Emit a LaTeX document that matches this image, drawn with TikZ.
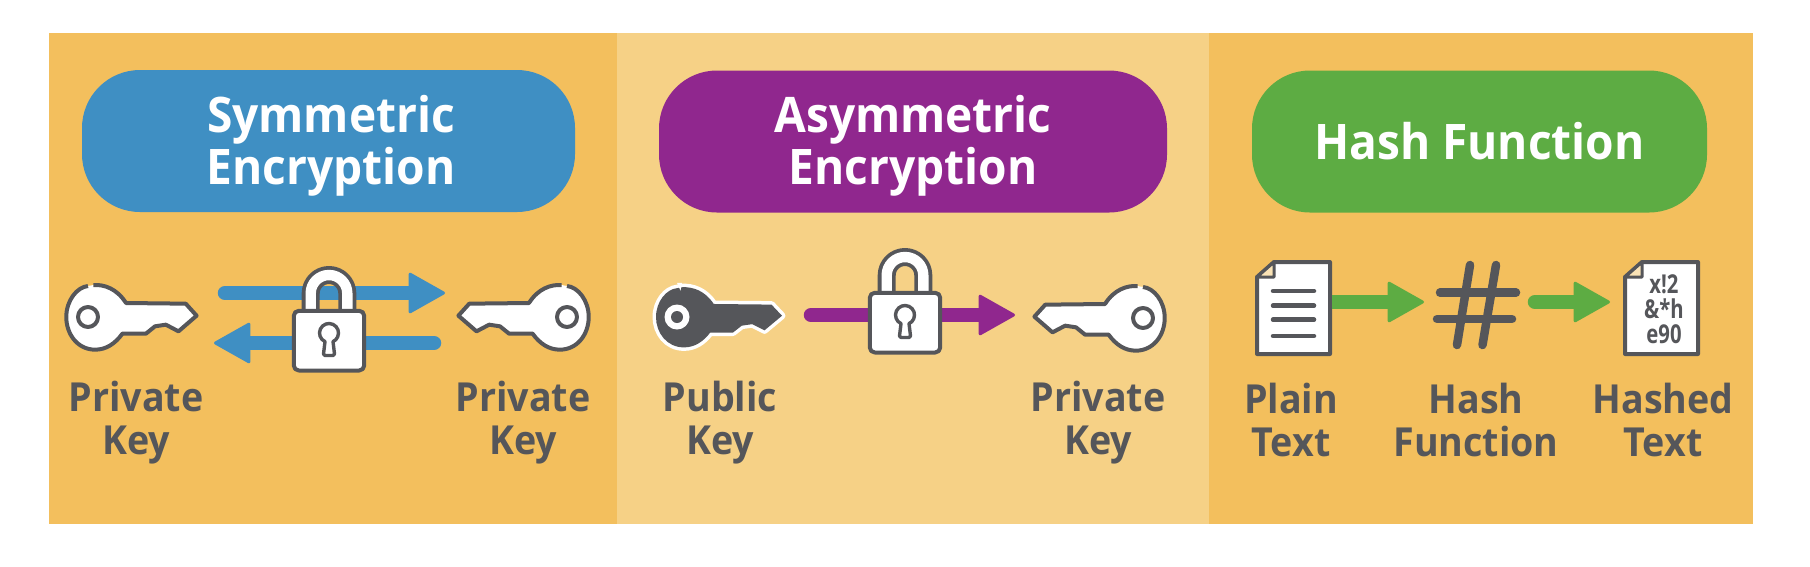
\documentclass[tikz,border=0pt]{standalone}
\usepackage{fontspec}
\usetikzlibrary{arrows.meta}
\setmainfont{Open Sans}
\newfontfamily\docfont[FakeStretch=0.78]{Open Sans Bold}
\newfontfamily\headfont[FakeStretch=0.94]{Open Sans Bold}
\definecolor{panelA}{HTML}{F3BF5D}
\definecolor{panelB}{HTML}{F6D186}
\definecolor{symblue}{HTML}{3F8FC3}
\definecolor{asympurple}{HTML}{90278E}
\definecolor{hashgreen}{HTML}{5DAC43}
\definecolor{dk}{HTML}{55565A}
\def\keypath{(15,-96) .. controls (45,-98) and (80,-85) .. (105,-42) -- (270,-40) -- (300,-4) -- (250,43) -- (215,23) -- (185,28) -- (160,50) -- (95,50) .. controls (75,80) and (50,98) .. (20,98) .. controls (-30,98) and (-60,50) .. (-60,0) .. controls (-60,-50) and (-30,-90) .. (0,-93)}
\tikzset{
  pill/.style={fill=#1,minimum height=142pt,rounded corners=58pt,inner sep=0pt},
  headtext/.style={text=white,align=center,font=\headfont\fontsize{49}{52}\selectfont,inner sep=0pt},
  lbl/.style={text=dk,align=center,font=\headfont\fontsize{40}{43}\selectfont,inner sep=0pt},
  flow/.style={draw=#1,line width=14.5pt,line cap=round,-{Triangle[length=38pt,width=42pt,line width=3pt,round,fill=#1,color=#1]}},
  keylight/.pic={
    \begin{scope}[x=.362pt,y=-.3333pt,line join=round]
      \path[fill=white,draw=dk,line width=4pt] \keypath;
      \draw[dk,fill=white,line width=4pt] (0,0) circle[radius=10pt];
    \end{scope}
  },
  keydark/.pic={
    \begin{scope}[x=.35pt,y=-.31pt,line join=round]
      \path[fill=dk,draw=white,line width=7pt] \keypath -- cycle;
      \path[fill=dk] \keypath -- cycle;
      \fill[white] (0,-110) -- (14,-110) -- (10,-85) -- cycle;
      \fill[white] (0,0) circle[radius=12.5pt];
      \fill[dk] (0,0) circle[radius=6pt];
    \end{scope}
  },
  padlock/.pic={
    \begin{scope}[line join=round]
      \draw[dk,line width=18pt] (-18.3,3) -- (-18.3,-15.7) arc[start angle=180,end angle=0,radius=18.3pt] -- (18.3,3);
      \draw[white,line width=10.4pt] (-18.3,3) -- (-18.3,-15.7) arc[start angle=180,end angle=0,radius=18.3pt] -- (18.3,3);
      \draw[dk,fill=white,line width=4pt,rounded corners=5pt] (-35.2,1.8) rectangle (35.2,61.5);
      \draw[dk,fill=white,line width=3.4pt] (-4,32.6) arc[start angle=245,end angle=-65,radius=9.5pt] -- (5.5,45) -- (4,46.5) -- (-4,46.5) -- (-5.5,45) -- cycle;
    \end{scope}
  },
  paper/.pic={
    \begin{scope}[line join=round]
      \draw[dk,fill=white,line width=4pt] (19,2) -- (75,2) -- (75,94) -- (2,94) -- (2,17) -- cycle;
      \draw[dk,fill=panelB!60!white,line width=3pt] (2,17) -- (19,17) -- (19,2) -- cycle;
    \end{scope}
  }
}
\begin{document}
\begin{tikzpicture}[x=1pt,y=-1pt]
\useasboundingbox (0,0) rectangle (1810,566);
\fill[white] (0,0) rectangle (1810,566);
\fill[panelA] (48.5,33) rectangle (617,524);
\fill[panelB] (617,33) rectangle (1209,524);
\fill[panelA] (1209,33) rectangle (1753,524);

\node[pill=symblue,minimum width=493pt] (symhead) at (328.5,141) {};
\node[pill=asympurple,minimum width=508pt] (asymhead) at (913,141.5) {};
\node[pill=hashgreen,minimum width=455pt] (hashhead) at (1479.5,141.5) {};
\node[headtext] (symtext) at (331,146) {Symmetric\\Encryption};
\node[headtext] (asymtext) at (913,146) {Asymmetric\\Encryption};
\node[headtext] (hashtext) at (1479.5,141) {Hash Function};

% symmetric
\coordinate (sa1) at (225,293);
\coordinate (sb1) at (445,293);
\coordinate (sa2) at (434,343);
\coordinate (sb2) at (214,343);
\draw[flow=symblue] (sa1) -- (sb1);
\draw[flow=symblue] (sa2) -- (sb2);
\pic (slock) at (329,309) {padlock};
\pic (skeya) at (88,317) {keylight};
\pic[xscale=-1] (skeyb) at (567,317) {keylight};
\node[lbl] (slabela) at (136,423) {Private\\Key};
\node[lbl] (slabelb) at (523,423) {Private\\Key};

% asymmetric
\coordinate (aa) at (811,315);
\coordinate (ab) at (1015,315);
\draw[flow=asympurple] (aa) -- (ab);
\pic (alock) at (905,291) {padlock};
\pic (akeya) at (677,317) {keydark};
\pic[xscale=-1] (akeyb) at (1143,318) {keylight};
\node[lbl] (alabela) at (720,423) {Public\\Key};
\node[lbl] (alabelb) at (1098,423) {Private\\Key};

% hash
\pic (docplain) at (1255,260) {paper};
\foreach \yy in {291,305.7,319.7,336}
  \draw[dk,line width=4.5pt,line cap=round] (1273,\yy) -- (1314,\yy);
\coordinate (ha) at (1332,302);
\coordinate (hb) at (1424,302);
\coordinate (hc) at (1535,302);
\coordinate (hd) at (1610,302);
\draw[flow=hashgreen,line cap=butt] (ha) -- (hb);
\draw[flow=hashgreen] (hc) -- (hd);
\begin{scope}[dk,line width=8.5pt,line cap=round]
  \draw (1470,265) -- (1457,345);
  \draw (1496,265) -- (1482.5,345);
  \draw (1440,292.7) -- (1516,292.7);
  \draw (1437,319) -- (1512,319);
\end{scope}
\pic (dochash) at (1623,260) {paper};
\node[text=dk,align=center,font=\docfont\fontsize{26}{25}\selectfont,inner sep=0pt] (hashed) at (1664,309.5) {x!2\\\&*h\\e90};
\node[lbl] (hlabela) at (1291,420) {Plain\\Text};
\node[lbl] (hlabelb) at (1476,420) {Hash\\Function};
\node[lbl] (hlabelc) at (1663,420) {Hashed\\Text};
\end{tikzpicture}
\end{document}
